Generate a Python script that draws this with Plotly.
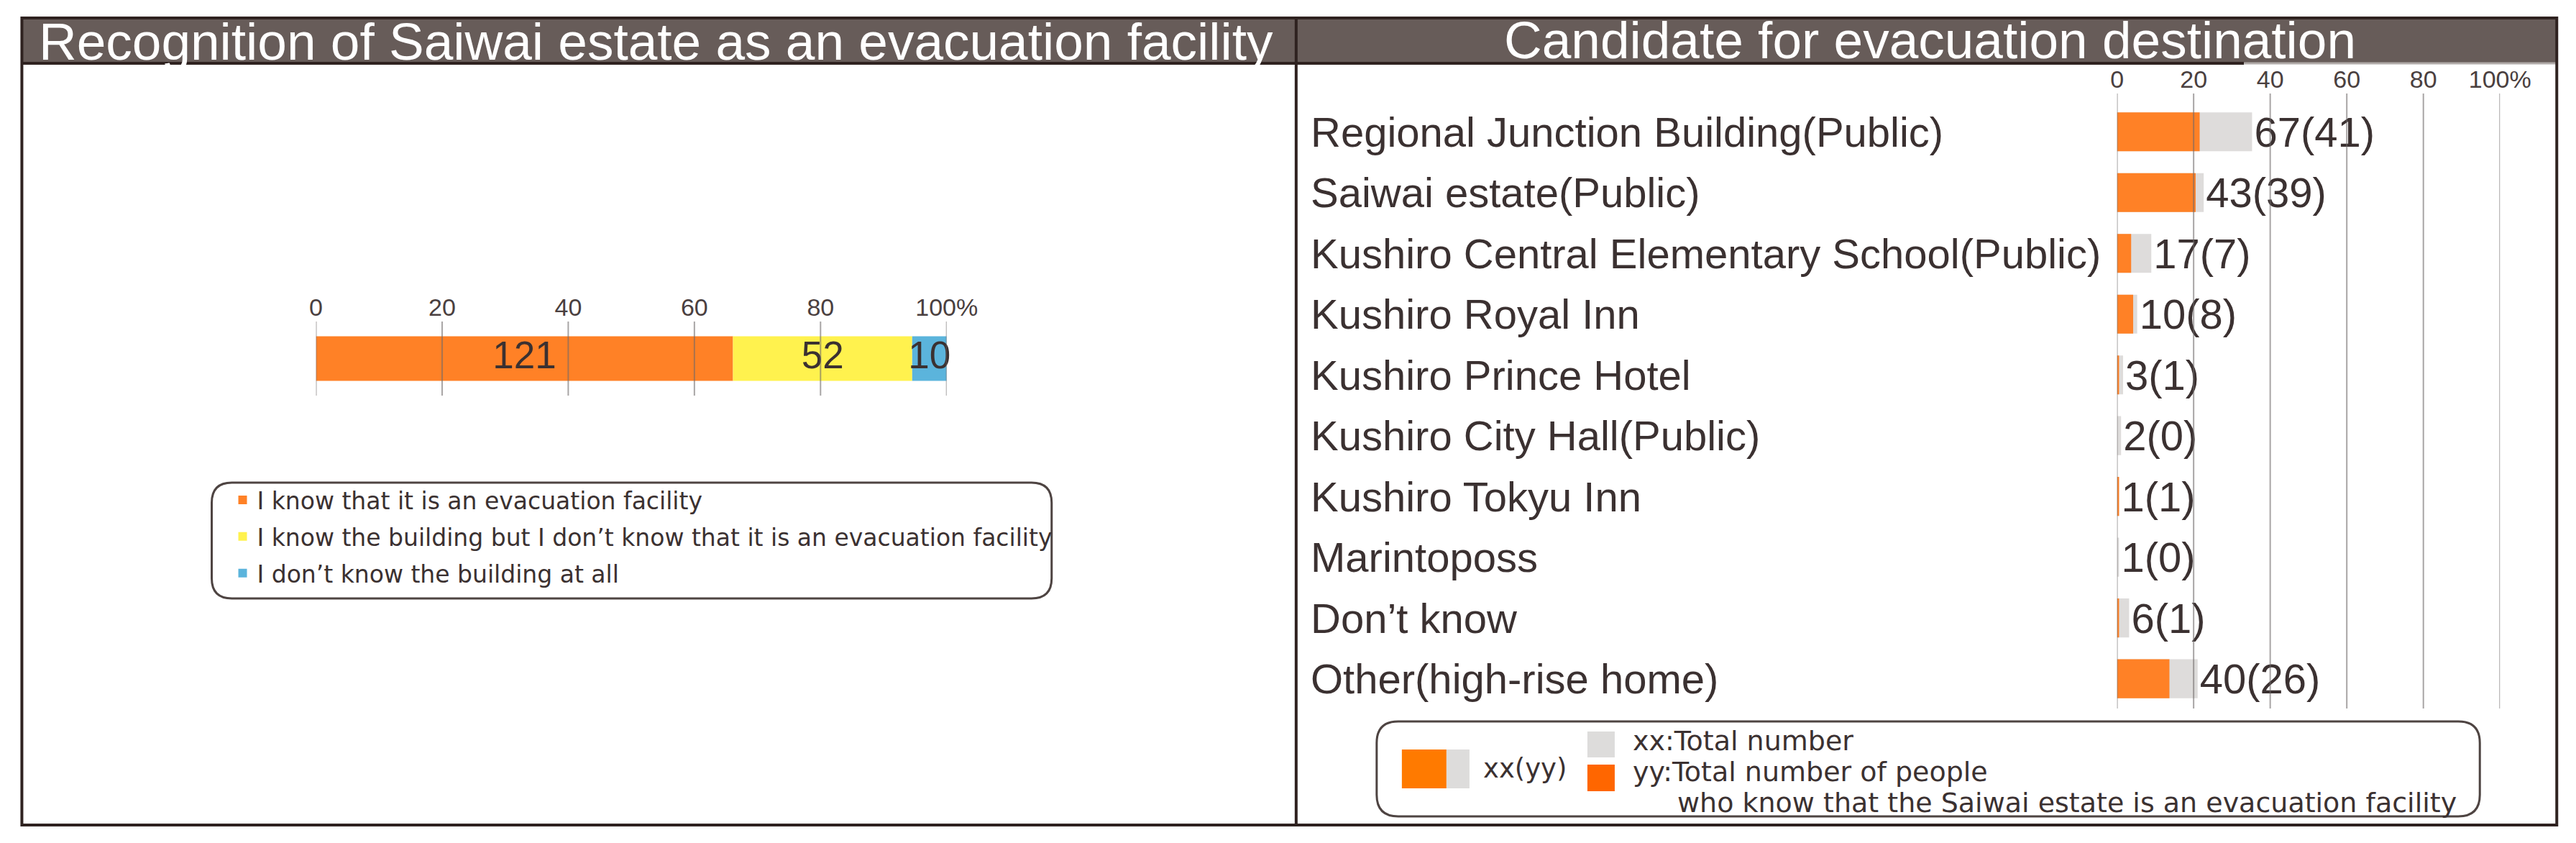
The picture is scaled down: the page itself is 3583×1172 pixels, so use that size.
import plotly.graph_objects as go

W, H = 3583, 1172
PAD = 8            # default body margin of the html page
SX, OX = 0.9854, 8.7   # measured horizontal squeeze of the captured page
FW, FH = 3620, H - 2 * PAD

# left panel: recognition of Saiwai estate
recog_labels = ["I know that it is an evacuation facility",
                "I know the building but I don’t know that it is an evacuation facility",
                "I don’t know the building at all"]
recog_counts = [121, 52, 10]
recog_colors = ["#FF8126", "#FFF24E", "#5BB4DC"]

# right panel: candidate destinations
dest_names = ["Regional Junction Building(Public)", "Saiwai estate(Public)",
              "Kushiro Central Elementary School(Public)", "Kushiro Royal Inn",
              "Kushiro Prince Hotel", "Kushiro City Hall(Public)", "Kushiro Tokyu Inn",
              "Marintoposs", "Don’t know", "Other(high-rise home)"]
dest_total = [67, 43, 17, 10, 3, 2, 1, 1, 6, 40]
dest_known = [41, 39, 7, 8, 1, 0, 1, 0, 1, 26]

tick_vals = [0, 20, 40, 60, 80, 100]
tick_text = ["0", "20", "40", "60", "80", "100%"]

FONT = "Liberation Sans, Arial, sans-serif"
SMALL = "DejaVu Sans, sans-serif"
DARK = "#3B3131"
FRAME = "#2F2220"
BAR_BG = "#675C59"


def px(x):
    page = (x - OX) / SX
    return (page - PAD) / FW


def py(y):
    return 1 - (y - PAD) / FH


def rrect(x0, y0, x1, y1, r):
    pts = [("M", x0 + r, y0), ("L", x1 - r, y0), ("Q", x1, y0, x1, y0 + r),
           ("L", x1, y1 - r), ("Q", x1, y1, x1 - r, y1), ("L", x0 + r, y1),
           ("Q", x0, y1, x0, y1 - r), ("L", x0, y0 + r), ("Q", x0, y0, x0 + r, y0)]
    out = []
    for p in pts:
        cmd, vals = p[0], p[1:]
        coords = []
        for i in range(0, len(vals), 2):
            coords.append(f"{px(vals[i]):.5f},{py(vals[i + 1]):.5f}")
        out.append(cmd + " " + " ".join(coords))
    return " ".join(out) + " Z"


fig = go.Figure()

# ---- left stacked bar
total = sum(recog_counts)
pcts = [c / total * 100 for c in recog_counts]
bases = [sum(pcts[:i]) for i in range(len(pcts))]
for lab, p, b, col in zip(recog_labels, pcts, bases, recog_colors):
    fig.add_trace(go.Bar(x=[p], y=["all"], base=[b], orientation="h", width=0.6,
                         marker=dict(color=col, line=dict(width=0)), name=lab,
                         legendgroup=lab, xaxis="x", yaxis="y", hoverinfo="skip"))
mids = [b + p / 2 for b, p in zip(bases, pcts)]
fig.add_trace(go.Scatter(x=mids, y=["all"] * 3, mode="text", text=[str(c) for c in recog_counts],
                         textfont=dict(size=53, color=DARK, family=FONT), showlegend=False,
                         xaxis="x", yaxis="y", cliponaxis=False))

# ---- right overlay bars
dsum = sum(dest_total)
tot_pct = [t / dsum * 100 for t in dest_total]
kn_pct = [k / dsum * 100 for k in dest_known]
fig.add_trace(go.Bar(x=tot_pct, y=dest_names, orientation="h", width=0.64,
                     marker=dict(color="#DEDCDB", line=dict(width=0)),
                     text=[f"{t}({k})" for t, k in zip(dest_total, dest_known)],
                     textposition="outside", constraintext="none",
                     textfont=dict(size=58, color=DARK, family=FONT),
                     cliponaxis=False, showlegend=False, xaxis="x2", yaxis="y2"))
fig.add_trace(go.Bar(x=kn_pct, y=dest_names, orientation="h", width=0.64,
                     marker=dict(color="#FF8126", line=dict(width=0)),
                     showlegend=False, xaxis="x2", yaxis="y2"))

shapes = []
# gridlines on top of the bars
for v in tick_vals:
    shapes.append(dict(type="line", xref="x", yref="y domain", x0=v, x1=v, y0=0, y1=1,
                       line=dict(color="rgba(110,105,105,0.6)", width=2), layer="above"))
    shapes.append(dict(type="line", xref="x2", yref="y2 domain", x0=v, x1=v, y0=0, y1=1,
                       line=dict(color="rgba(110,105,105,0.6)", width=2), layer="above"))

# panel frame and title bars
shapes += [
    dict(type="rect", xref="paper", yref="paper", x0=px(30), x1=px(1802), y0=py(88), y1=py(25),
         fillcolor=BAR_BG, line=dict(width=0), layer="below"),
    dict(type="rect", xref="paper", yref="paper", x0=px(1802), x1=px(3555), y0=py(87), y1=py(25),
         fillcolor=BAR_BG, line=dict(width=0), layer="below"),
    dict(type="line", xref="paper", yref="paper", x0=px(30), x1=px(3120), y0=py(88), y1=py(88),
         line=dict(color=FRAME, width=4)),
    dict(type="line", xref="paper", yref="paper", x0=px(3120), x1=px(3555), y0=py(88), y1=py(88),
         line=dict(color="#B0AAA8", width=3)),
    dict(type="rect", xref="paper", yref="paper", x0=px(30), x1=px(3555), y0=py(1147), y1=py(25),
         line=dict(color=FRAME, width=4)),
    dict(type="line", xref="paper", yref="paper", x0=px(1802), x1=px(1802), y0=py(1147), y1=py(25),
         line=dict(color=FRAME, width=4)),
    # legend boxes
    dict(type="path", xref="paper", yref="paper", path=rrect(294, 671, 1462, 832, 28),
         line=dict(color="#4E4442", width=3)),
    dict(type="path", xref="paper", yref="paper", path=rrect(1914, 1003, 3448, 1135, 30),
         line=dict(color="#4E4442", width=3)),
    # right legend swatches
    dict(type="rect", xref="paper", yref="paper", x0=px(1949), x1=px(2011), y0=py(1096), y1=py(1042),
         fillcolor="#FF7A00", line=dict(width=0)),
    dict(type="rect", xref="paper", yref="paper", x0=px(2011), x1=px(2043), y0=py(1096), y1=py(1042),
         fillcolor="#DDDCDB", line=dict(width=0)),
    dict(type="rect", xref="paper", yref="paper", x0=px(2207), x1=px(2245), y0=py(1053), y1=py(1017),
         fillcolor="#DDDCDB", line=dict(width=0)),
    dict(type="rect", xref="paper", yref="paper", x0=px(2207), x1=px(2245), y0=py(1100), y1=py(1063),
         fillcolor="#FF6600", line=dict(width=0)),
]

annotations = [
    dict(text="Recognition of Saiwai estate as an evacuation facility", x=px(912), y=py(57),
         xref="paper", yref="paper", showarrow=False, xanchor="center", yanchor="middle",
         font=dict(size=73, color="white", family=FONT)),
    dict(text="Candidate for evacuation destination", x=px(2683), y=py(56),
         xref="paper", yref="paper", showarrow=False, xanchor="center", yanchor="middle",
         font=dict(size=73, color="white", family=FONT)),
    dict(text="xx(yy)", x=px(2060), y=py(1068), xref="paper", yref="paper", showarrow=False,
         xanchor="left", yanchor="middle", font=dict(size=37, color=DARK, family=SMALL)),
    dict(text="xx:Total number", x=px(2268), y=py(1030), xref="paper", yref="paper", showarrow=False,
         xanchor="left", yanchor="middle", font=dict(size=38, color=DARK, family=SMALL)),
    dict(text="yy:Total number of people", x=px(2268), y=py(1073), xref="paper", yref="paper",
         showarrow=False, xanchor="left", yanchor="middle",
         font=dict(size=38, color=DARK, family=SMALL)),
    dict(text="who know that the Saiwai estate is an evacuation facility", x=px(2330), y=py(1116),
         xref="paper", yref="paper", showarrow=False, xanchor="left", yanchor="middle",
         font=dict(size=38, color=DARK, family=SMALL)),
]
for name in dest_names:
    annotations.append(dict(text=name, x=px(1820), y=name, xref="paper", yref="y2",
                            showarrow=False, xanchor="left", yanchor="middle",
                            font=dict(size=58, color=DARK, family=FONT)))

axis_common = dict(range=[0, 100], tickvals=tick_vals, ticktext=tick_text, side="top",
                   showgrid=False, zeroline=False, showline=False, ticks="",
                   tickfont=dict(size=34, color="#4A4040", family=FONT), fixedrange=True)

fig.update_layout(
    width=FW, height=FH,
    margin=dict(l=0, r=0, t=0, b=0),
    paper_bgcolor="white", plot_bgcolor="rgba(0,0,0,0)",
    barmode="overlay",
    xaxis=dict(domain=[px(439), px(1316)], anchor="y", **axis_common),
    yaxis=dict(domain=[py(550), py(447)], anchor="x", range=[-0.5, 0.5], visible=False),
    xaxis2=dict(domain=[px(2943.5), px(3476)], anchor="y2", **axis_common),
    yaxis2=dict(domain=[py(985), py(130)], anchor="x2", type="category",
                categoryarray=dest_names, range=[9.49, -0.63], visible=False),
    showlegend=True,
    legend=dict(x=px(317), y=py(667), xanchor="left", yanchor="top",
                font=dict(size=33, color=DARK, family=SMALL), bgcolor="rgba(0,0,0,0)",
                tracegroupgap=5, traceorder="grouped"),
    shapes=shapes,
    annotations=annotations,
)

fig.write_html("out.html")
